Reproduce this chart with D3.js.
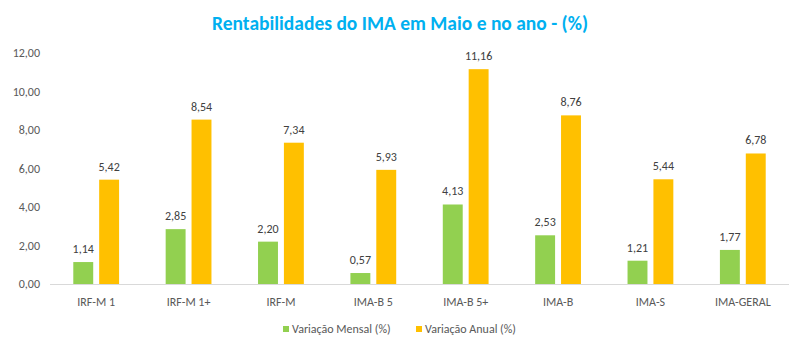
<!DOCTYPE html>
<html lang="pt">
<head>
<meta charset="UTF-8">
<title>Rentabilidades do IMA</title>
<script src="https://cdn.jsdelivr.net/npm/d3@7"></script>
<style>
  body { margin: 0; background: #fff; }
  svg { display: block; font-family: Carlito, Calibri, "Open Sans", sans-serif; }
</style>
</head>
<body>
<script>
const categories = ["IRF-M 1", "IRF-M 1+", "IRF-M", "IMA-B 5", "IMA-B 5+", "IMA-B", "IMA-S", "IMA-GERAL"];
const mensal = [1.14, 2.85, 2.20, 0.57, 4.13, 2.53, 1.21, 1.77];
const anual = [5.42, 8.54, 7.34, 5.93, 11.16, 8.76, 5.44, 6.78];
const yTicks = [0, 2, 4, 6, 8, 10, 12];
const seriesNames = ["Variação Mensal (%)", "Variação Anual (%)"];
const colors = ["#92D050", "#FFC000"];

const width = 800, height = 352;
const margin = {top: 53, right: 11, bottom: 68, left: 50};

const svg = d3.select("body").append("svg")
    .attr("width", width).attr("height", height);

const fmt = v => d3.format(".2f")(v).replace(".", ",");

const x = d3.scaleBand().domain(categories)
    .range([margin.left, width - margin.right]);
const xs = d3.scaleBand().domain([0, 1])
    .range([0, x.bandwidth()]).paddingInner(0.23).paddingOuter(0.9);
const y = d3.scaleLinear().domain([0, 12])
    .range([height - margin.bottom, margin.top]);

// title
svg.append("text")
    .attr("x", width / 2).attr("y", 30)
    .attr("text-anchor", "middle")
    .attr("fill", "#00B0F0")
    .attr("font-weight", "bold")
    .attr("font-size", 19.5)
    .text("Rentabilidades do IMA em Maio e no ano - (%)");

// y axis labels
svg.append("g").selectAll("text")
    .data(yTicks).enter().append("text")
    .attr("x", 40).attr("y", d => y(d) + 4)
    .attr("text-anchor", "end")
    .attr("fill", "#595959")
    .attr("font-size", 12)
    .text(d => fmt(d));

// bars
const groups = svg.append("g").selectAll("g")
    .data(categories).enter().append("g")
    .attr("transform", d => `translate(${x(d)},0)`);

[mensal, anual].forEach((vals, s) => {
    groups.append("rect")
        .attr("x", xs(s)).attr("width", xs.bandwidth())
        .attr("y", (d, i) => y(vals[i]))
        .attr("height", (d, i) => y(0) - y(vals[i]))
        .attr("fill", colors[s]);
    groups.append("text")
        .attr("x", xs(s) + xs.bandwidth() / 2)
        .attr("y", (d, i) => y(vals[i]) - 9)
        .attr("text-anchor", "middle")
        .attr("fill", "#404040")
        .attr("font-size", 12)
        .text((d, i) => fmt(vals[i]));
});

// baseline
svg.append("line")
    .attr("x1", margin.left).attr("x2", width - margin.right)
    .attr("y1", y(0) + 0.5).attr("y2", y(0) + 0.5)
    .attr("stroke", "#D9D9D9");

// category labels
svg.append("g").selectAll("text")
    .data(categories).enter().append("text")
    .attr("x", d => x(d) + x.bandwidth() / 2)
    .attr("y", y(0) + 22)
    .attr("text-anchor", "middle")
    .attr("fill", "#595959")
    .attr("font-size", 12)
    .text(d => d);

// legend
const legendX = [283, 416];
const legend = svg.append("g").selectAll("g")
    .data(seriesNames).enter().append("g")
    .attr("transform", (d, i) => `translate(${legendX[i]},326)`);
legend.append("rect")
    .attr("width", 6).attr("height", 6)
    .attr("fill", (d, i) => colors[i]);
legend.append("text")
    .attr("x", 9).attr("y", 7)
    .attr("fill", "#595959")
    .attr("font-size", 12)
    .text(d => d);
</script>
</body>
</html>
